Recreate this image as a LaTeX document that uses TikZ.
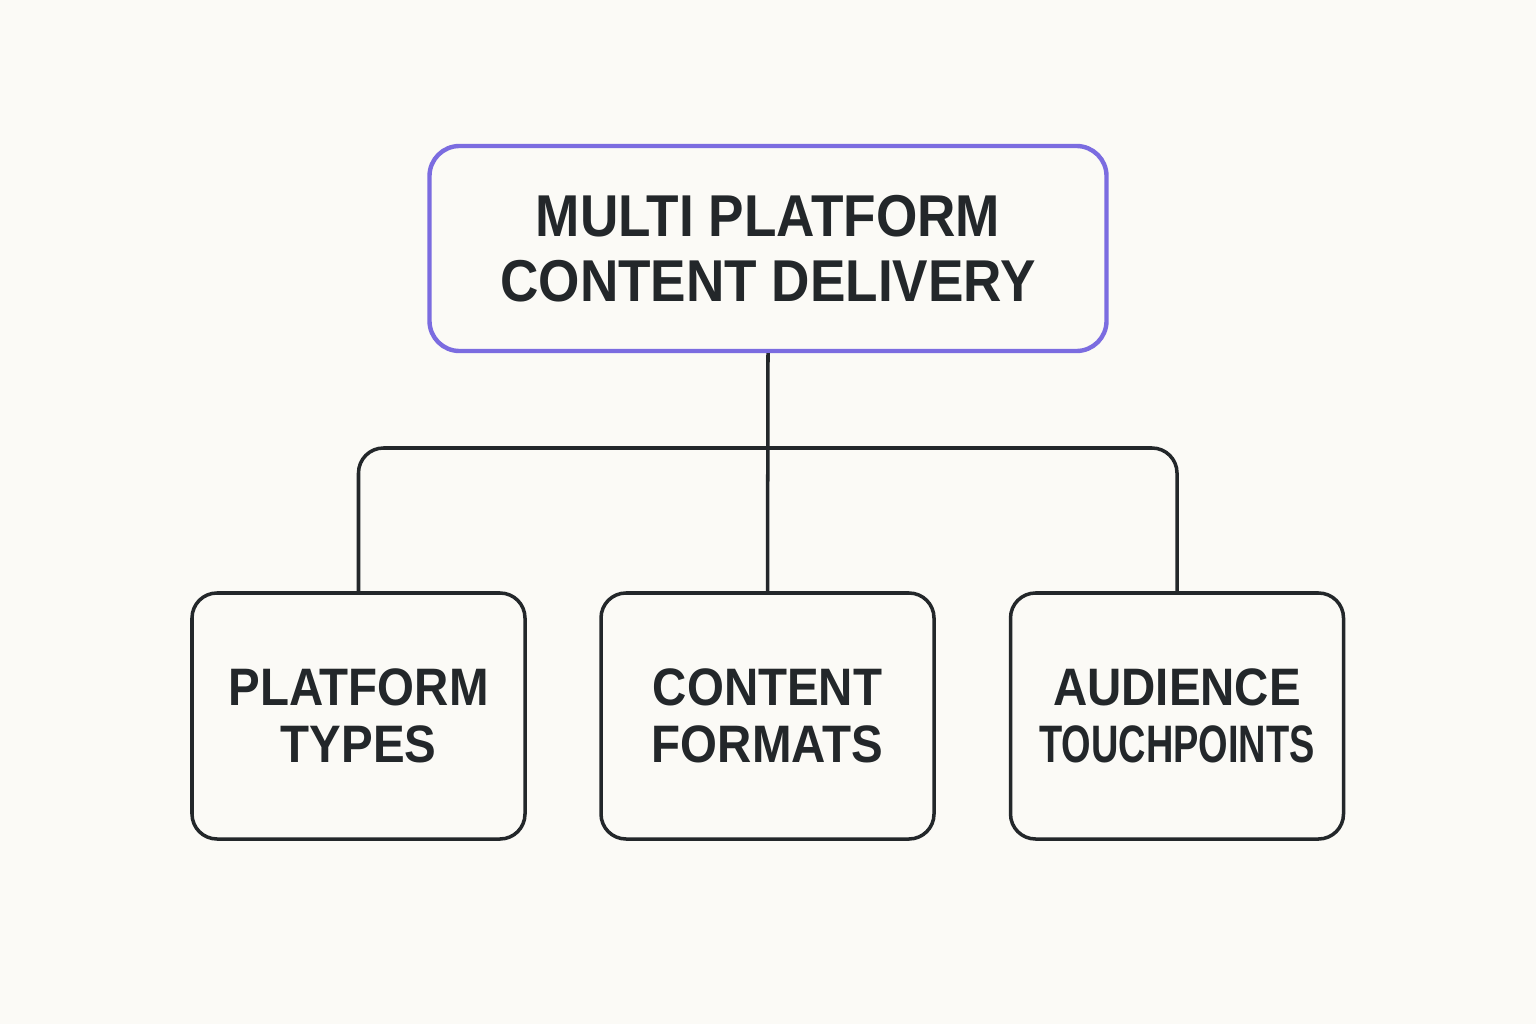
\documentclass[tikz,border=0pt]{standalone}
\usepackage{fontspec}
\setmainfont{Liberation Sans}[FakeStretch=0.9]
\usepackage{graphicx}

\definecolor{paper}{HTML}{FBFAF6}
\definecolor{ink}{HTML}{23272A}
\definecolor{violet}{HTML}{7B6CE0}

\tikzset{
  topbox/.style={draw=violet, line width=1.25pt, rounded corners=0.3cm,
    minimum width=6.77cm, minimum height=2.05cm, align=center, text=ink,
    font=\fontsize{16.8}{18.5}\selectfont\bfseries},
  catbox/.style={draw=ink, line width=1pt, rounded corners=0.25cm,
    minimum width=3.33cm, minimum height=2.46cm, align=center, text=ink,
    font=\fontsize{15}{16.2}\selectfont\bfseries},
  link/.style={draw=ink, line width=1pt, rounded corners=0.25cm}
}

\begin{document}
\begin{tikzpicture}
            \fill[paper] (0,0) rectangle (15.36,10.24);
            \useasboundingbox (0,0) rectangle (15.36,10.24);
            \node[topbox] (mpcd) at (7.68, 7.755) {MULTI PLATFORM\\CONTENT DELIVERY};
            \node[catbox] (ptypes) at (3.585, 3.08) {PLATFORM\\TYPES};
            \node[catbox] (cformats) at (7.675, 3.08) {CONTENT\\FORMATS};
            \node[catbox] (touch) at (11.77, 3.08) {AUDIENCE\\\scalebox{0.8}[1]{TOUCHPOINTS}};
            \coordinate (fork) at (7.68, 5.76);
            \draw[link] (mpcd.south) -- (cformats.north);
            \draw[link] (fork) -| (ptypes.north);
            \draw[link] (fork) -| (touch.north);
        \end{tikzpicture}
\end{document}
